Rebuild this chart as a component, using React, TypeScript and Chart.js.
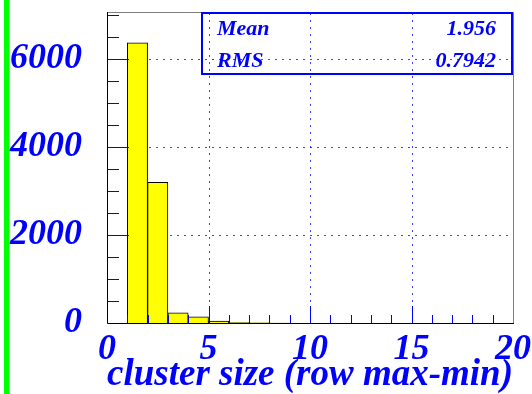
import React, { useEffect, useRef } from "react";
import { Chart, registerables } from "chart.js";

Chart.register(...registerables);

const binCenters = [0.5, 1.5, 2.5, 3.5, 4.5, 5.5, 6.5, 7.5, 8.5, 9.5, 10.5, 11.5, 12.5, 13.5, 14.5, 15.5, 16.5, 17.5, 18.5, 19.5];
const binCounts = [0, 6370, 3200, 234, 140, 45, 8, 3, 1, 0, 0, 0, 0, 0, 0, 0, 0, 0, 0, 0];
const yTickValues = [0, 2000, 4000, 6000];
const xTickValues = [0, 5, 10, 15, 20];
const statNames = ["Mean", "RMS"];
const statValues = ["1.956", "0.7942"];
const xTitle = "cluster size (row max-min)";

const BLUE = "#0000ff";
const FONT = "'Liberation Serif', 'DejaVu Serif', serif";

const decorPlugin = {
  id: "decor",
  beforeDraw(chart: any) {
    const ctx = chart.ctx;
    const { left, right, top, bottom } = chart.chartArea;
    const xs = chart.scales.x;
    const ys = chart.scales.y;
    ctx.save();
    ctx.fillStyle = "#ffffff";
    ctx.fillRect(0, 0, chart.width, chart.height);
    ctx.fillStyle = "#00ff00";
    ctx.fillRect(4, 0, 5.5, chart.height);
    // dotted grid
    ctx.strokeStyle = "rgba(0,0,255,0.75)";
    ctx.lineWidth = 1;
    ctx.setLineDash([2, 5]);
    xTickValues.slice(1, -1).forEach((v) => {
      const px = Math.round(xs.getPixelForValue(v)) + 0.5;
      ctx.beginPath();
      ctx.moveTo(px, bottom);
      ctx.lineTo(px, top);
      ctx.stroke();
    });
    yTickValues.slice(1).forEach((v) => {
      const py = Math.round(ys.getPixelForValue(v)) + 0.5;
      ctx.beginPath();
      ctx.moveTo(left, py);
      ctx.lineTo(right, py);
      ctx.stroke();
    });
    ctx.restore();
  },
  afterDatasetsDraw(chart: any) {
    const ctx = chart.ctx;
    const { left, right, top, bottom } = chart.chartArea;
    const xs = chart.scales.x;
    const ys = chart.scales.y;
    ctx.save();
    // frame
    ctx.lineWidth = 1;
    ctx.strokeStyle = "#808080";
    ctx.beginPath();
    ctx.moveTo(left, top + 0.5);
    ctx.lineTo(right + 0.5, top + 0.5);
    ctx.lineTo(right + 0.5, bottom);
    ctx.stroke();
    ctx.strokeStyle = "#000000";
    ctx.beginPath();
    ctx.moveTo(left + 0.5, top);
    ctx.lineTo(left + 0.5, bottom + 0.5);
    ctx.lineTo(right + 1, bottom + 0.5);
    ctx.stroke();
    // ticks
    ctx.strokeStyle = BLUE;
    for (let v = 1; v < 20; v++) {
      const px = Math.round(xs.getPixelForValue(v)) + 0.5;
      const len = v % 5 === 0 ? 17 : 8;
      ctx.beginPath();
      ctx.moveTo(px, bottom);
      ctx.lineTo(px, bottom - len);
      ctx.stroke();
    }
    for (let v = 500; v <= 7000; v += 500) {
      const py = Math.round(ys.getPixelForValue(v)) + 0.5;
      const len = v % 2000 === 0 ? 21 : 11;
      ctx.beginPath();
      ctx.moveTo(left + 1, py);
      ctx.lineTo(left + 1 + len, py);
      ctx.stroke();
    }
    // stats box
    ctx.lineWidth = 2;
    ctx.strokeStyle = BLUE;
    ctx.strokeRect(202, 13, 310, 61);
    ctx.fillStyle = BLUE;
    ctx.font = `italic bold 22px ${FONT}`;
    ctx.textBaseline = "alphabetic";
    statNames.forEach((n, i) => {
      ctx.textAlign = "left";
      ctx.fillText(n, 217, 35 + i * 32);
      ctx.textAlign = "right";
      ctx.fillText(statValues[i], 496, 35 + i * 32);
    });
    ctx.restore();
  },
};

export default function App() {
  const ref = useRef<HTMLCanvasElement | null>(null);
  useEffect(() => {
    if (!ref.current) return;
    const tickFont = { family: FONT, size: 36, style: "italic" as const, weight: "bold" as const };
    const chart = new Chart(ref.current, {
      type: "bar",
      data: {
        datasets: [
          {
            data: binCenters.map((x, i) => ({ x, y: binCounts[i] })),
            backgroundColor: "#ffff00",
            borderColor: "#000000",
            borderWidth: 1,
            barPercentage: 1,
            categoryPercentage: 1,
          },
        ],
      },
      options: {
        animation: false,
        responsive: false,
        devicePixelRatio: 1,
        layout: { padding: { left: 0, top: 12, right: 19, bottom: 0 } },
        plugins: { legend: { display: false }, tooltip: { enabled: false } },
        scales: {
          x: {
            type: "linear",
            offset: false,
            min: 0,
            max: 20,
            grid: { display: false, drawTicks: false, offset: false },
            border: { display: false },
            afterBuildTicks: (s: any) => {
              s.ticks = xTickValues.map((v) => ({ value: v }));
            },
            ticks: { font: tickFont, color: BLUE, padding: 5, maxRotation: 0, autoSkip: false },
            title: {
              display: true,
              text: xTitle,
              align: "end",
              color: BLUE,
              font: { family: FONT, size: 37, style: "italic", weight: "bold", lineHeight: 1 },
              padding: 0,
            },
            afterFit: (s: any) => {
              s.height = 71;
              s.paddingLeft = 0;
              s.paddingRight = 0;
            },
          },
          y: {
            type: "linear",
            min: 0,
            max: 7070,
            grid: { display: false, drawTicks: false },
            border: { display: false },
            afterBuildTicks: (s: any) => {
              s.ticks = yTickValues.map((v) => ({ value: v }));
            },
            ticks: {
              autoSkip: false,
              font: tickFont,
              color: BLUE,
              padding: 25,
              callback: (v: any) => String(v),
            },
            afterFit: (s: any) => {
              s.width = 107;
              s.paddingTop = 0;
              s.paddingBottom = 0;
            },
          },
        },
      },
      plugins: [decorPlugin],
    } as any);
    return () => chart.destroy();
  }, []);
  return (
    <div style={{ position: "fixed", left: 0, top: 0, width: 532, height: 394 }}>
      <canvas ref={ref} width={532} height={394} style={{ width: 532, height: 394 }} />
    </div>
  );
}
